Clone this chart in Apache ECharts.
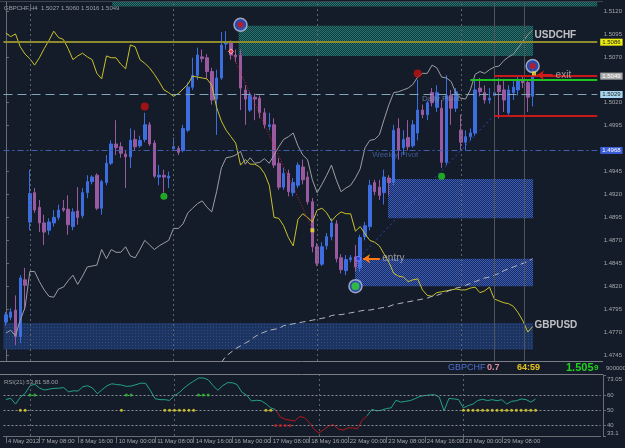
<!DOCTYPE html>
<html>
<head>
<meta charset="utf-8">
<style>html,body{margin:0;padding:0;background:#151c29;}#c{width:625px;height:448px;}</style>
<script src="https://cdn.jsdelivr.net/npm/echarts@6/dist/echarts.min.js"></script>
</head>
<body>
<div id="c"></div>
<script>
// ---------- DATA ----------
const openPx = [1.4781,1.4786,1.4794,1.4765,1.4827,1.4890,1.4922,1.4906,1.4889,1.4881,
1.4889,1.4895,1.4905,1.4904,1.4885,1.4902,1.4897,1.4922,1.4934,1.4941,
1.4905,1.4933,1.4954,1.4975,1.4972,1.4964,1.4961,1.4980,1.4973,1.4980,
1.4996,1.4976,1.4939,1.4941,1.4938,1.4970,1.4970,1.4968,1.4990,1.5037,
1.5050,1.5070,1.5069,1.5054,1.5024,1.5047,1.5084,1.5085,1.5072,1.5072,
1.5034,1.5012,1.5026,1.5025,1.5009,1.4994,1.4996,1.4954,1.4928,1.4943,
1.4922,1.4930,1.4950,1.4939,1.4912,1.4863,1.4844,1.4864,1.4874,1.4888,
1.4851,1.4837,1.4849,1.4852,1.4840,1.4874,1.4885,1.4933,1.4928,1.4922,
1.4938,1.4933,1.4992,1.4971,1.4982,1.4973,1.4987,1.5012,1.5007,1.5031,
1.5015,1.5014,1.4955,1.5028,1.5014,1.4990,1.4977,1.4983,1.4987,1.5036,
1.5031,1.5023,1.5028,1.5039,1.5034,1.5009,1.5031,1.5034,1.5044,1.5042,
1.5027];
const closePx = [1.4789,1.4792,1.4765,1.4829,1.4821,1.4921,1.4903,1.4889,1.4879,1.4890,
1.4895,1.4903,1.4903,1.4887,1.4901,1.4895,1.4922,1.4934,1.4939,1.4905,
1.4934,1.4954,1.4975,1.4971,1.4965,1.4961,1.4979,1.4972,1.4979,1.4996,
1.4975,1.4940,1.4941,1.4939,1.4940,1.4972,1.4966,1.4992,1.5037,1.5050,
1.5072,1.5068,1.5054,1.5023,1.5047,1.5083,1.5086,1.5072,1.5070,1.5036,
1.5024,1.5028,1.5024,1.5009,1.4996,1.4996,1.4952,1.4928,1.4943,1.4923,
1.4933,1.4952,1.4936,1.4912,1.4863,1.4845,1.4863,1.4874,1.4889,1.4850,
1.4838,1.4849,1.4851,1.4841,1.4873,1.4886,1.4930,1.4923,1.4919,1.4939,
1.4933,1.4990,1.4968,1.4980,1.4972,1.4996,1.5012,1.5007,1.5020,1.5020,
1.5031,1.4955,1.5028,1.5014,1.5032,1.4977,1.4983,1.4987,1.5034,1.5032,
1.5023,1.5025,1.5031,1.5032,1.5023,1.5034,1.5037,1.5045,1.5042,1.5026,
1.5049];
const lowPx = [1.4777,1.4783,1.4756,1.4758,1.4794,1.4881,1.4900,1.4879,1.4865,1.4876,
1.4885,1.4892,1.4901,1.4876,1.4881,1.4887,1.4894,1.4916,1.4931,1.4903,
1.4898,1.4930,1.4952,1.4963,1.4960,1.4927,1.4949,1.4968,1.4971,1.4977,
1.4973,1.4938,1.4930,1.4922,1.4927,1.4968,1.4963,1.4966,1.4988,1.5034,
1.5045,1.5064,1.5047,1.5018,1.4985,1.5045,1.5078,1.5067,1.5064,1.5012,
1.4996,1.5010,1.5001,1.5003,1.4992,1.4990,1.4949,1.4925,1.4925,1.4918,
1.4918,1.4927,1.4931,1.4909,1.4857,1.4842,1.4842,1.4860,1.4870,1.4846,
1.4834,1.4832,1.4846,1.4836,1.4836,1.4870,1.4881,1.4919,1.4914,1.4909,
1.4919,1.4930,1.4958,1.4963,1.4968,1.4971,1.4979,1.5003,1.5001,1.5016,
1.5010,1.4949,1.4952,1.4996,1.5010,1.4968,1.4968,1.4979,1.4984,1.5027,
1.5019,1.5019,1.5014,1.5003,1.5010,1.5006,1.5023,1.5028,1.5036,1.5010,
1.5016];
const highPx = [1.4792,1.4796,1.4810,1.4832,1.4840,1.4947,1.4927,1.4914,1.4898,1.4894,
1.4903,1.4909,1.4914,1.4919,1.4905,1.4928,1.4927,1.4941,1.4941,1.4943,
1.4936,1.4963,1.4979,1.5001,1.4977,1.4968,1.4992,1.4990,1.4984,1.5009,
1.4999,1.4979,1.4952,1.4947,1.4945,1.4982,1.4973,1.4996,1.5042,1.5069,
1.5080,1.5078,1.5073,1.5058,1.5056,1.5097,1.5098,1.5088,1.5078,1.5078,
1.5039,1.5032,1.5030,1.5028,1.5014,1.5009,1.5003,1.4960,1.4949,1.4947,
1.4938,1.4955,1.4958,1.4945,1.4916,1.4867,1.4868,1.4878,1.4894,1.4892,
1.4855,1.4854,1.4854,1.4865,1.4876,1.4890,1.4936,1.4936,1.4936,1.4947,
1.4941,1.4996,1.5003,1.4990,1.5001,1.5001,1.5045,1.5018,1.5022,1.5036,
1.5039,1.5023,1.5050,1.5034,1.5036,1.5007,1.4990,1.4992,1.5045,1.5047,
1.5039,1.5036,1.5045,1.5047,1.5045,1.5039,1.5045,1.5050,1.5048,1.5045,
1.5060];
// overlay symbols (GBPUSD yellow, USDCHF grey) in chart price units
const gbpusdLine = [1.5096,1.5092,1.5095,1.5081,1.5073,1.5068,1.5061,1.5069,1.5079,1.5088,
1.5098,1.5091,1.5089,1.5079,1.5067,1.5071,1.5074,1.5070,1.5067,1.5052,
1.5046,1.5071,1.5069,1.5069,1.5062,1.5057,1.5083,1.5081,1.5067,1.5063,
1.5058,1.5051,1.5043,1.5034,1.5031,1.5027,1.5030,1.5035,1.5040,1.5049,
1.5048,1.5047,1.5046,1.5039,1.5015,1.5000,1.4990,1.4983,1.4976,1.4952,
1.4958,1.4953,1.4953,1.4950,1.4943,1.4930,1.4895,1.4894,1.4886,1.4873,
1.4864,1.4893,1.4899,1.4895,1.4890,1.4903,1.4905,1.4900,1.4891,1.4897,
1.4901,1.4899,1.4899,1.4880,1.4885,1.4877,1.4870,1.4868,1.4864,1.4855,
1.4846,1.4834,1.4831,1.4830,1.4825,1.4827,1.4828,1.4816,1.4810,1.4809,
1.4813,1.4814,1.4815,1.4816,1.4817,1.4816,1.4816,1.4818,1.4819,1.4813,
1.4815,1.4819,1.4806,1.4804,1.4802,1.4801,1.4798,1.4791,1.4782,1.4770,
1.4776];
const usdchfLine = [1.4769,1.4772,1.4766,1.4783,1.4797,1.4836,1.4836,1.4825,1.4816,1.4809,
1.4808,1.4817,1.4819,1.4826,1.4832,1.4822,1.4831,1.4841,1.4842,1.4843,
1.4860,1.4850,1.4860,1.4857,1.4857,1.4863,1.4853,1.4851,1.4860,1.4870,
1.4865,1.4860,1.4864,1.4867,1.4870,1.4883,1.4883,1.4888,1.4900,1.4905,
1.4910,1.4913,1.4906,1.4901,1.4923,1.4949,1.4960,1.4961,1.4963,1.4967,
1.4953,1.4960,1.4954,1.4955,1.4959,1.4954,1.4963,1.4972,1.4980,1.4983,
1.4987,1.4973,1.4963,1.4958,1.4936,1.4922,1.4931,1.4941,1.4952,1.4936,
1.4923,1.4927,1.4930,1.4938,1.4948,1.4971,1.4979,1.4980,1.4985,1.5002,
1.5018,1.5031,1.5032,1.5034,1.5036,1.5040,1.5048,1.5052,1.5052,1.5061,
1.5058,1.5048,1.5047,1.5043,1.5030,1.5025,1.5024,1.5034,1.5051,1.5054,
1.5052,1.5056,1.5059,1.5060,1.5066,1.5070,1.5073,1.5080,1.5087,1.5094,
1.5099];
const maStart = 45;
const maLine = [1.4737,1.4744,1.4748,1.4752,1.4755,1.4758,1.4761,1.4765,1.4768,1.4770,
1.4772,1.4773,1.4774,1.4777,1.4778,1.4779,1.4780,1.4781,1.4782,1.4783,
1.4784,1.4785,1.4786,1.4788,1.4789,1.4789,1.4790,1.4791,1.4792,1.4793,
1.4794,1.4794,1.4795,1.4796,1.4797,1.4798,1.4800,1.4801,1.4802,1.4803,
1.4804,1.4805,1.4806,1.4807,1.4809,1.4810,1.4812,1.4814,1.4816,1.4818,
1.4819,1.4821,1.4823,1.4825,1.4827,1.4829,1.4830,1.4832,1.4834,1.4837,
1.4839,1.4841,1.4843,1.4845,1.4847,1.4850];
const rsiVals = [57.0,57.8,54.0,58.5,61.0,66.0,67.0,64.5,63.2,63.8,
64.3,64.4,64.8,62.0,62.7,62.6,65.4,66.0,64.5,60.8,
63.5,66.0,67.3,66.8,66.5,65.6,65.8,66.7,67.7,67.6,
62.9,57.5,56.9,56.9,56.4,59.5,61.5,64.5,67.0,69.0,
71.1,71.1,70.0,66.2,63.0,66.0,68.0,68.0,66.8,61.8,
59.8,56.0,56.5,56.2,54.2,51.5,50.4,45.5,44.0,43.5,
42.9,45.9,45.1,42.0,37.5,35.0,37.3,39.6,40.5,37.8,
36.9,38.4,38.4,37.8,43.5,46.3,50.5,49.6,50.0,51.1,
51.5,56.5,55.3,55.8,56.3,57.6,59.1,59.6,60.0,60.2,
58.5,49.6,57.7,57.4,57.0,51.5,53.0,54.0,56.4,57.1,
56.3,56.9,56.2,56.9,54.0,55.8,56.2,57.3,57.0,55.3,
57.3];
// bars where the RSI line is drawn red (weak phase)
const rsiRedFrom = 56, rsiRedTo = 75;
const rsiGreenBars = [5,6,25,26,40,41,42];
const rsiYellowBars = [3,4,24,33,34,35,36,37,38,39,54,55,95,96,97,98,99,100,101,102,103,104,105,106,107,108,109,110];
const rsiRedBars = [56,57,58,59];
const slotCount = 124;
const tickIdx  = [0,7,15,23,31,39,47,55,63,71,79,87,95,103];
const tickText = ['4 May 2012','7 May 08:00','8 May 16:00','10 May 00:00','11 May 08:00','14 May 16:00','16 May 00:00','17 May 08:00','18 May 16:00','22 May 00:00','23 May 08:00','24 May 16:00','28 May 00:00','29 May 08:00'];
const priceTicks = [1.4745,1.4770,1.4795,1.4820,1.4845,1.4870,1.4895,1.4920,1.4945,1.4995,1.5020,1.5070,1.5095,1.5120];
const rsiTicks = [73.05,60,50,40,33.1];
const weekStarts = [5,35,65,95];
// signal markers [bar, price]
const redDots = [[29,1.5016],[86,1.5052]];
const greenDots = [[33,1.4918],[91,1.4940]];
const ringRed = [[49,1.5105],[110,1.5060]];
const ringGreen = [[73,1.4820]];
const smallRed = [[47,1.5076]];
const smallYellow = [[64,1.4881],[110.3,1.5052]];
const entryDot = [[73.6,1.4850]];

// ---------- CHART ----------
const cats = Array.from({length: slotCount}, (_, i) => String(i));
const tickMap = {}; tickIdx.forEach((k, j) => tickMap[k] = tickText[j]);
const candleData = openPx.map((o, i) => [o, closePx[i], lowPx[i], highPx[i]]);
const maData = cats.map((_, i) => (i >= maStart && i - maStart < maLine.length) ? maLine[i - maStart] : null);
const rsiGreenData = rsiVals.map((v, i) => (i <= rsiRedFrom || i >= rsiRedTo) ? v : null);
const rsiRedData = rsiVals.map((v, i) => (i >= rsiRedFrom && i <= rsiRedTo) ? v : null);

function pat(bg, dot, size) {
  const c = document.createElement('canvas'); c.width = size; c.height = size;
  const g = c.getContext('2d'); g.fillStyle = bg; g.fillRect(0, 0, size, size);
  g.fillStyle = dot;
  if (size === 2) { g.fillRect(0, 0, 1, 1); g.fillRect(1, 1, 1, 1); } else { g.fillRect(0, 0, 1, 1); }
  return {image: c, repeat: 'repeat'};
}
const tealPat = pat('#15393c', '#23766f', 2);
const bluePat = pat('#1b2b58', '#3a5cbc', 2);
const deepPat = pat('#1d3360', '#2c4c88', 3);

const FS = '"Liberation Sans",Arial,sans-serif';
const axisGrey = '#6a6e74';
const txtGrey = '#a4a8ac';

function seg(x1, y1, x2, y2, style, label) {
  return [{coord: [x1, y1], lineStyle: style, label: label || {show: false}}, {coord: [x2, y2]}];
}
function tag(txt, bg, fg) {
  return {show: true, position: 'end', formatter: txt, backgroundColor: bg, color: fg, fontSize: 6, fontFamily: FS, padding: [1, 2, 0, 2], distance: 3};
}
function textPts(list) {
  return list.map(t => ({value: [t[0], t[1]], label: {show: true, position: 'right', distance: 0, formatter: t[2], color: t[3], fontSize: t[4], fontWeight: t[5] || 'normal', fontFamily: FS}}));
}

const chart = echarts.init(document.getElementById('c'), null, {renderer: 'canvas'});
const option = {
  backgroundColor: '#151c29',
  animation: false,
  grid: [
    {left: 3.5, top: 2, width: 597.1, height: 359},
    {left: 3.5, top: 375, width: 597.1, height: 61}
  ],
  xAxis: [
    {type: 'category', gridIndex: 0, data: cats, boundaryGap: true, show: false},
    {type: 'category', gridIndex: 1, data: cats, boundaryGap: true,
      axisLine: {show: true, lineStyle: {color: axisGrey}},
      axisTick: {show: true, alignWithLabel: true, length: 7, interval: (i) => tickMap[i] !== undefined, lineStyle: {color: axisGrey}},
      axisLabel: {interval: (i) => tickMap[i] !== undefined, showMinLabel: true, formatter: (v, i) => tickMap[i] || '', align: 'left', margin: 2, color: txtGrey, fontSize: 6, fontFamily: FS, padding: [0, 0, 0, 2]},
      splitLine: {show: false}},
    {type: 'value', gridIndex: 0, min: -0.5, max: slotCount - 0.5, show: false}
  ],
  yAxis: [
    {type: 'value', gridIndex: 0, min: 1.47385, max: 1.51298, position: 'right', offset: 2.4,
      axisLine: {show: true, lineStyle: {color: axisGrey}},
      axisTick: {show: true, customValues: priceTicks, length: 3, inside: false, lineStyle: {color: axisGrey}},
      axisLabel: {customValues: priceTicks, formatter: (v) => Number(v).toFixed(4), color: txtGrey, fontSize: 6, fontFamily: FS, margin: 4},
      splitLine: {show: false}},
    {type: 'value', gridIndex: 1, min: 33.1, max: 73.05, position: 'right', offset: 2.4,
      axisLine: {show: true, lineStyle: {color: axisGrey}},
      axisTick: {show: true, customValues: rsiTicks, length: 3, lineStyle: {color: axisGrey}},
      axisLabel: {customValues: rsiTicks, color: txtGrey, fontSize: 6, fontFamily: FS, margin: 4,
        formatter: (v) => v === 73.05 ? '{t|73.05}' : (v === 33.1 ? '{b|33.1}' : String(v)),
        rich: {t: {padding: [8, 0, 0, 0], fontSize: 6, color: txtGrey, fontFamily: FS}, b: {padding: [0, 0, 6, 0], fontSize: 6, color: txtGrey, fontFamily: FS}}},
      splitLine: {show: false}}
  ],
  graphic: [
    {type: 'line', shape: {x1: 0, y1: 1.5, x2: 603, y2: 1.5}, style: {stroke: '#3c4450', lineWidth: 1}, silent: true},
    {type: 'line', shape: {x1: 0, y1: 361.5, x2: 603, y2: 361.5}, style: {stroke: '#7a7e84', lineWidth: 1}, silent: true},
    {type: 'line', shape: {x1: 0, y1: 374.5, x2: 603, y2: 374.5}, style: {stroke: '#7a7e84', lineWidth: 1}, silent: true},
    {type: 'text', left: 4, top: 5, style: {text: 'GBPCHF,H4  1.5027 1.5060 1.5016 1.5049', fill: '#9aa0a6', font: '6px ' + FS}, silent: true},
    {type: 'text', left: 4, top: 379, style: {text: 'RSI(21) 53.81 58.00', fill: '#9aa0a6', font: '6px ' + FS}, silent: true},
    {type: 'text', left: 448, top: 363, style: {text: 'GBPCHF', fill: '#4d6fd0', font: '9px ' + FS}, silent: true},
    {type: 'text', left: 487, top: 363, style: {text: '0.7', fill: '#e58aa0', font: 'bold 9px ' + FS}, silent: true},
    {type: 'text', left: 517, top: 363, style: {text: '64:59', fill: '#e8c21c', font: 'bold 9px ' + FS}, silent: true},
    {type: 'text', left: 566, top: 362, style: {text: '1.505', fill: '#22d022', font: 'bold 11px ' + FS}, silent: true},
    {type: 'text', left: 594, top: 364, style: {text: '9', fill: '#22d022', font: 'bold 8px ' + FS}, silent: true},
    {type: 'text', left: 606, top: 365, style: {text: '9000000', fill: txtGrey, font: '6px ' + FS}, silent: true}
  ],
  series: [
    // 0: zones, level lines, separators (value x axis)
    {type: 'line', xAxisIndex: 2, yAxisIndex: 0, data: [], z: 1, silent: true,
      markArea: {silent: true, data: [
        [{xAxis: 22.2, yAxis: 1.51298, itemStyle: {color: tealPat}}, {xAxis: slotCount - 0.5, yAxis: 1.5125}],
        [{xAxis: 48.6, yAxis: 1.5104, itemStyle: {color: tealPat}}, {xAxis: 110.1, yAxis: 1.5071}],
        [{xAxis: 79.8, yAxis: 1.4937, itemStyle: {color: bluePat}}, {xAxis: 110.1, yAxis: 1.4894}],
        [{xAxis: 72.9, yAxis: 1.4850, itemStyle: {color: bluePat}}, {xAxis: 110.1, yAxis: 1.4820}],
        [{xAxis: -0.9, yAxis: 1.4780, itemStyle: {color: deepPat}}, {xAxis: 110.1, yAxis: 1.4751}]
      ]},
      markLine: {silent: true, precision: 5, symbol: ['none', 'none'], label: {show: false}, data: [
        ...weekStarts.map(w => ({xAxis: w, lineStyle: {color: '#5d646c', type: [2, 3], width: 1}, label: {show: false}})),
        {xAxis: 102, lineStyle: {color: '#4e545a', type: 'solid', width: 1}, label: {show: false}},
        {xAxis: 108.2, lineStyle: {color: '#4e545a', type: 'solid', width: 1}, label: {show: false}},
        {yAxis: 1.5086, lineStyle: {color: '#8e8a2e', type: 'solid', width: 2}, label: tag('1.5086', '#ecec10', '#202020')},
        {yAxis: 1.5029, lineStyle: {color: '#7ea6b6', type: [9, 5], width: 1}, label: tag('1.5029', '#a8d6f0', '#202020')},
        {yAxis: 1.4968, lineStyle: {color: '#3d5fae', type: [6, 3, 2, 3], width: 1}, label: tag('1.4968', '#3a5ed8', '#ffffff')},
        seg(97, 1.5045, slotCount - 0.5, 1.5045, {color: '#1fc21f', width: 2, type: 'solid'}),
        seg(102, 1.5049, slotCount - 0.5, 1.5049, {color: '#c81818', width: 2, type: 'solid'}, tag('1.5049', '#a9a9a9', '#ffffff')),
        seg(102, 1.5006, slotCount - 0.5, 1.5006, {color: '#c81818', width: 2, type: 'solid'}),
        seg(46.8, 1.5078, 63.6, 1.4887, {color: '#d02020', width: 1, type: [1, 2]}),
        seg(73.8, 1.4851, 101.9, 1.5006, {color: '#2a48b8', width: 1, type: [2, 3]})
      ]}},
    // 1: candles
    {type: 'candlestick', xAxisIndex: 0, yAxisIndex: 0, data: candleData, barWidth: 3, z: 3,
      itemStyle: {color: '#3c6ee0', color0: '#9a5aa0', borderColor: '#3c6ee0', borderColor0: '#9a5aa0', borderWidth: 1}},
    // 2: GBPUSD overlay
    {type: 'line', xAxisIndex: 0, yAxisIndex: 0, data: gbpusdLine, showSymbol: false, z: 4,
      lineStyle: {color: '#c9c12a', width: 1}},
    // 3: USDCHF overlay
    {type: 'line', xAxisIndex: 0, yAxisIndex: 0, data: usdchfLine, showSymbol: false, z: 4,
      lineStyle: {color: '#9c9ea2', width: 1}},
    // 4: MA dashed
    {type: 'line', xAxisIndex: 0, yAxisIndex: 0, data: maData, showSymbol: false, z: 4, connectNulls: false,
      lineStyle: {color: '#b4b6ba', width: 1, type: [6, 4]}},
    // 5: arrows
    {type: 'line', xAxisIndex: 2, yAxisIndex: 0, data: [], z: 5, silent: true,
      markLine: {silent: true, precision: 5, label: {show: false}, symbol: ['arrow', 'none'], symbolSize: [7, 7], data: [
        [{coord: [74.6, 1.4850], lineStyle: {color: '#ff7a12', width: 2, type: 'solid'}}, {coord: [78.1, 1.4850]}],
        [{coord: [110.9, 1.5050], lineStyle: {color: '#d41a1a', width: 2, type: 'solid'}}, {coord: [114.2, 1.5050]}]
      ]}},
    // 6: ring markers
    {type: 'scatter', xAxisIndex: 2, yAxisIndex: 0, z: 6, silent: true, symbolSize: 13,
      data: ringRed.concat(ringGreen),
      itemStyle: {color: '#3452c4', borderColor: '#b8c4d8', borderWidth: 1.5}},
    // 7: dots
    {type: 'scatter', xAxisIndex: 2, yAxisIndex: 0, z: 7, silent: true,
      data: [
        ...ringRed.map(p => ({value: p, symbolSize: 6, itemStyle: {color: '#d01414'}})),
        ...ringGreen.map(p => ({value: p, symbolSize: 8, itemStyle: {color: '#2fd42f'}})),
        ...redDots.map(p => ({value: p, symbolSize: 8, itemStyle: {color: '#c01212'}})),
        ...greenDots.map(p => ({value: p, symbolSize: 7, itemStyle: {color: '#22cc22'}})),
        ...smallRed.map(p => ({value: p, symbolSize: 5, symbol: 'diamond', itemStyle: {color: '#ff3c3c', borderColor: '#ffd0d0', borderWidth: 1}})),
        ...smallYellow.map(p => ({value: p, symbolSize: 4, symbol: 'rect', itemStyle: {color: '#f0e030'}})),
        ...entryDot.map(p => ({value: p, symbolSize: 5, itemStyle: {color: '#2a3ee0', borderColor: '#8090ff', borderWidth: 1}}))
      ]},
    // 8: text labels
    {type: 'scatter', xAxisIndex: 2, yAxisIndex: 0, z: 8, silent: true, symbolSize: 1, itemStyle: {color: 'rgba(0,0,0,0)'},
      labelLayout: {hideOverlap: false},
      data: textPts([
        [110.3, 1.5094, 'USDCHF', '#e8e8ea', 10, 'bold'],
        [110.3, 1.4778, 'GBPUSD', '#e8e8ea', 10, 'bold'],
        [86.8, 1.5024, 'Daily Pivot', '#7890b0', 8],
        [76.4, 1.4963, 'Weekly Pivot', '#4a68a8', 8],
        [78.5, 1.4850, 'entry', '#b4b6ba', 10],
        [114.7, 1.5050, 'exit', '#b4b6ba', 10]
      ])},
    // 9: RSI line (normal phase)
    {type: 'line', xAxisIndex: 1, yAxisIndex: 1, data: rsiGreenData, showSymbol: false, z: 4, connectNulls: false,
      lineStyle: {width: 1, color: '#22a383'}},
    // 10: RSI line (weak phase)
    {type: 'line', xAxisIndex: 1, yAxisIndex: 1, data: rsiRedData, showSymbol: false, z: 4, connectNulls: false,
      lineStyle: {width: 1, color: '#b3161c'}},
    // 11: RSI signal dots + levels
    {type: 'scatter', xAxisIndex: 1, yAxisIndex: 1, z: 5, silent: true, symbolSize: 3,
      data: [
        ...rsiGreenBars.map(b => ({value: [b, 60], itemStyle: {color: '#2ccc2c'}})),
        ...rsiYellowBars.map(b => ({value: [b, 50], itemStyle: {color: '#e6d42a'}})),
        ...rsiRedBars.map(b => ({value: [b, 40], itemStyle: {color: '#c82020'}}))
      ],
      markLine: {silent: true, precision: 3, symbol: ['none', 'none'], label: {show: false}, data: [
        {yAxis: 60, lineStyle: {color: '#8a8e94', type: [2, 2], width: 1}},
        {yAxis: 50, lineStyle: {color: '#8a8e94', type: [2, 2], width: 1}},
        {yAxis: 40, lineStyle: {color: '#8a8e94', type: [2, 2], width: 1}},
        ...weekStarts.map(w => ({xAxis: w, lineStyle: {color: '#5d646c', type: [2, 3], width: 1}}))
      ]}}
  ]
};
chart.setOption(option);
</script>
</body>
</html>
